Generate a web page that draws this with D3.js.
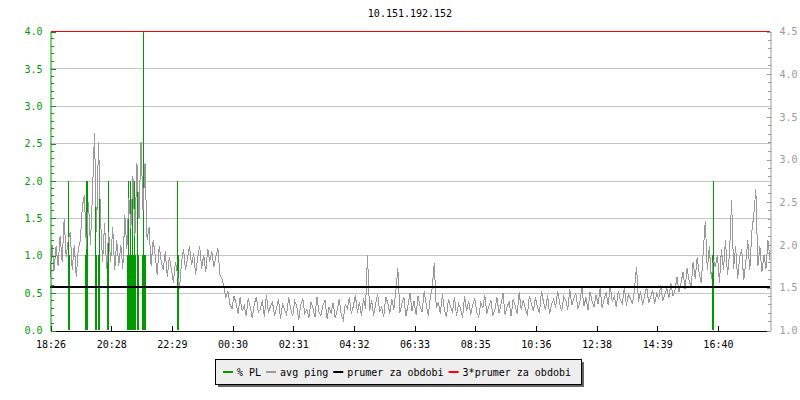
<!DOCTYPE html>
<html>
<head>
<meta charset="utf-8">
<script src="https://cdn.jsdelivr.net/npm/d3@7"></script>
<style>
  body { margin: 0; background: #fff; }
  text { font-family: "DejaVu Sans Mono", monospace; font-size: 10px; }
</style>
</head>
<body>
<div id="chart"></div>
<script>
const title = "10.151.192.152";

// x axis: sample index, one tick label every 120 samples
const sampleCount = 1424;
const tickEvery = 120;
const timeLabels = ["18:26", "20:28", "22:29", "00:30", "02:31", "04:32",
                    "06:33", "08:35", "10:36", "12:38", "14:39", "16:40"];

// avg ping (right axis, ms), one value every 4 samples
const pingStep = 4;
const ping = [
  1.62, 2.00, 1.70, 1.98, 1.75, 2.10, 1.80, 2.30, 1.85, 2.05,
  2.15, 1.70, 2.00, 1.62, 1.95, 2.05, 2.45, 2.58, 1.95, 2.50,
  2.00, 2.60, 3.30, 2.15, 3.20, 2.30, 1.80, 2.25, 1.72, 2.15,
  1.80, 2.20, 1.70, 2.05, 1.75, 2.00, 1.72, 2.35, 1.95, 2.55,
  2.20, 2.80, 2.10, 2.95, 2.30, 3.20, 2.40, 2.95, 2.05, 2.20,
  1.75, 2.05, 1.88, 1.65, 1.98, 1.80, 1.70, 1.92, 1.62, 1.85,
  1.72, 1.55, 1.80, 1.66, 1.48, 1.78, 1.95, 1.70, 1.85, 1.98,
  1.76, 1.90, 1.65, 1.84, 1.98, 1.72, 1.88, 1.68, 1.95, 1.80,
  1.92, 1.74, 1.86, 1.96, 1.65, 1.60, 1.50, 1.38, 1.45, 1.30,
  1.25, 1.40, 1.31, 1.19, 1.38, 1.22, 1.29, 1.16, 1.37, 1.27,
  1.14, 1.30, 1.39, 1.21, 1.24, 1.35, 1.15, 1.41, 1.20, 1.28,
  1.33, 1.17, 1.26, 1.36, 1.13, 1.31, 1.23, 1.18, 1.38, 1.25,
  1.16, 1.34, 1.28, 1.12, 1.30, 1.37, 1.19, 1.24, 1.14, 1.33,
  1.26, 1.15, 1.39, 1.21, 1.17, 1.29, 1.35, 1.13, 1.27, 1.20,
  1.32, 1.14, 1.23, 1.36, 1.18, 1.12, 1.30, 1.25, 1.38, 1.19,
  1.28, 1.41, 1.20, 1.33, 1.16, 1.37, 1.25, 1.88, 1.22, 1.35,
  1.17, 1.30, 1.42, 1.21, 1.27, 1.15, 1.39, 1.32, 1.19, 1.36,
  1.24, 1.46, 1.72, 1.20, 1.31, 1.38, 1.16, 1.29, 1.43, 1.22,
  1.34, 1.18, 1.40, 1.27, 1.21, 1.45, 1.30, 1.17, 1.37, 1.50,
  1.78, 1.26, 1.33, 1.19, 1.42, 1.24, 1.15, 1.36, 1.28, 1.20,
  1.39, 1.16, 1.31, 1.25, 1.14, 1.40, 1.22, 1.34, 1.18, 1.29,
  1.37, 1.21, 1.15, 1.32, 1.26, 1.41, 1.19, 1.28, 1.35, 1.17,
  1.24, 1.38, 1.20, 1.30, 1.43, 1.18, 1.27, 1.33, 1.16, 1.36,
  1.29, 1.19, 1.44, 1.23, 1.35, 1.26, 1.17, 1.40, 1.31, 1.22,
  1.38, 1.27, 1.20, 1.45, 1.33, 1.24, 1.41, 1.19, 1.30, 1.36,
  1.26, 1.46, 1.31, 1.22, 1.39, 1.35, 1.24, 1.48, 1.29, 1.37,
  1.43, 1.25, 1.33, 1.50, 1.28, 1.38, 1.23, 1.45, 1.34, 1.27,
  1.41, 1.30, 1.49, 1.26, 1.36, 1.44, 1.29, 1.52, 1.33, 1.39,
  1.27, 1.46, 1.35, 1.31, 1.50, 1.28, 1.42, 1.37, 1.30, 1.48,
  1.74, 1.33, 1.45, 1.29, 1.40, 1.51, 1.32, 1.38, 1.47, 1.31,
  1.43, 1.36, 1.53, 1.34, 1.41, 1.49, 1.37, 1.55, 1.40, 1.46,
  1.62, 1.44, 1.55, 1.68, 1.48, 1.72, 1.58, 1.50, 1.80, 1.60,
  1.85, 1.66, 1.55, 1.92, 2.28, 1.70, 1.98, 1.60, 1.82, 1.74,
  1.88, 1.55, 1.95, 1.70, 2.05, 1.64, 1.90, 2.52, 1.72, 1.98,
  1.60, 1.85, 1.95, 1.58, 1.78, 2.05, 1.70, 2.15, 2.35, 2.65,
  1.75, 1.98, 1.68, 1.88, 1.72, 2.05, 1.82
];

// % packet loss (left axis): sample index, value
const plIndex = [36, 38, 69, 71, 73, 89, 91, 95, 97, 113, 115,
                 152, 154, 156, 158, 160, 162, 164, 166, 168, 172, 174,
                 182, 184, 186, 188, 251, 253, 1309, 1311];
const plValue = [2, 1, 1, 2, 2, 2, 1, 1, 2, 1, 2,
                 1, 2, 1, 2, 1, 2, 1, 2, 1, 2, 1,
                 1, 4, 1, 1, 2, 1, 1, 2];

const prumer = 1.5;          // average ping for the period
const prumer3 = 3 * prumer;  // 3 * average

const legendItems = ["% PL", "avg ping", "prumer za obdobi", "3*prumer za obdobi"];

const plColor = "#009900";
const pingColor = "#999999";
const gridColor = "#c4c4c4";

const width = 800, height = 400;
const margin = {top: 31, right: 30, bottom: 70, left: 50};

const svg = d3.select("#chart").append("svg")
  .attr("width", width)
  .attr("height", height);

const x = d3.scaleLinear()
  .domain([0, sampleCount])
  .range([margin.left, width - margin.right]);

const yPL = d3.scaleLinear()
  .domain([0, 4])
  .range([height - margin.bottom, margin.top]);

const yPing = d3.scaleLinear()
  .domain([1, 4.5])
  .range([height - margin.bottom, margin.top]);

const x0 = margin.left, x1 = width - margin.right;
const yBottom = height - margin.bottom;

// horizontal grid at left axis major ticks
svg.append("g")
  .selectAll("line")
  .data(d3.range(0.5, 4, 0.5))
  .enter().append("line")
    .attr("x1", x0).attr("x2", x1)
    .attr("y1", d => Math.round(yPL(d)) + 0.5)
    .attr("y2", d => Math.round(yPL(d)) + 0.5)
    .attr("stroke", gridColor)
    .attr("shape-rendering", "crispEdges");

// packet loss bars
svg.append("g")
  .selectAll("rect")
  .data(plIndex.map((d, i) => ({i: d, v: plValue[i]})))
  .enter().append("rect")
    .attr("x", d => Math.round(x(d.i)))
    .attr("width", 1)
    .attr("y", d => Math.round(yPL(d.v)))
    .attr("height", d => yBottom - Math.round(yPL(d.v)))
    .attr("fill", plColor)
    .attr("shape-rendering", "crispEdges");

// avg ping trace
const line = d3.line()
  .x((d, i) => x(i * pingStep))
  .y(d => yPing(d));

svg.append("path")
  .datum(ping)
  .attr("fill", "none")
  .attr("stroke", pingColor)
  .attr("stroke-width", 1)
  .attr("shape-rendering", "crispEdges")
  .attr("d", line);

// average line
svg.append("line")
  .attr("x1", x0).attr("x2", x1)
  .attr("y1", Math.round(yPing(prumer)))
  .attr("y2", Math.round(yPing(prumer)))
  .attr("stroke", "#000")
  .attr("stroke-width", 2)
  .attr("shape-rendering", "crispEdges");

// bottom axis
const xAxis = d3.axisBottom(x)
  .tickValues(d3.range(0, sampleCount, tickEvery))
  .tickFormat((d, i) => timeLabels[i])
  .tickSizeInner(-5)
  .tickSizeOuter(0)
  .tickPadding(10);

const gx = svg.append("g")
  .attr("transform", `translate(0.5, ${yBottom + 0.5})`)
  .call(xAxis);
gx.select(".domain").attr("stroke", "#000").attr("shape-rendering", "crispEdges");
gx.selectAll(".tick line").attr("stroke", "#000").attr("shape-rendering", "crispEdges");
gx.selectAll(".tick text")
  .attr("fill", "#000")
  .style("font-family", '"DejaVu Sans Mono", monospace')
  .style("font-size", "10px");

// left axis, % PL
const yLeftAxis = d3.axisLeft(yPL)
  .tickValues(d3.range(0, 4.01, 0.5))
  .tickFormat(d3.format(".1f"))
  .tickSizeInner(-5)
  .tickSizeOuter(0)
  .tickPadding(8);

const gl = svg.append("g")
  .attr("transform", `translate(${x0 + 0.5}, 0.5)`)
  .call(yLeftAxis);

gl.append("g")
  .selectAll("line")
  .data(d3.range(0, 41).filter(d => d % 5 !== 0).map(d => d / 10))
  .enter().append("line")
    .attr("x1", 0).attr("x2", 3)
    .attr("y1", d => Math.round(yPL(d)))
    .attr("y2", d => Math.round(yPL(d)))
    .attr("stroke", plColor);

gl.select(".domain").attr("stroke", plColor);
gl.selectAll("line").attr("shape-rendering", "crispEdges");
gl.selectAll(".tick line").attr("stroke", plColor);
gl.selectAll(".tick text")
  .attr("fill", plColor)
  .style("font-family", '"DejaVu Sans Mono", monospace')
  .style("font-size", "10px");

// right axis, avg ping
const yRightAxis = d3.axisRight(yPing)
  .tickValues(d3.range(1, 4.51, 0.5))
  .tickFormat(d3.format(".1f"))
  .tickSizeInner(-4)
  .tickSizeOuter(0)
  .tickPadding(9);

const gr = svg.append("g")
  .attr("transform", `translate(${x1 + 0.5}, 0.5)`)
  .call(yRightAxis);

gr.append("g")
  .selectAll("line")
  .data(d3.range(10, 46).filter(d => d % 5 !== 0).map(d => d / 10))
  .enter().append("line")
    .attr("x1", 0).attr("x2", -3)
    .attr("y1", d => Math.round(yPing(d)))
    .attr("y2", d => Math.round(yPing(d)))
    .attr("stroke", pingColor);

gr.select(".domain").attr("stroke", pingColor);
gr.selectAll("line").attr("shape-rendering", "crispEdges");
gr.selectAll(".tick line").attr("stroke", pingColor);
gr.selectAll(".tick text")
  .attr("fill", pingColor)
  .style("font-family", '"DejaVu Sans Mono", monospace')
  .style("font-size", "10px");

// 3 * average, drawn last so nothing covers it
svg.append("rect")
  .attr("x", x0 + 1)
  .attr("y", Math.round(yPing(prumer3)))
  .attr("width", x1 - x0 - 1)
  .attr("height", 1)
  .attr("fill", "#ff0000")
  .attr("shape-rendering", "crispEdges");

// title
svg.append("text")
  .attr("x", (x0 + x1) / 2)
  .attr("y", 17)
  .attr("text-anchor", "middle")
  .attr("fill", "#000")
  .text(title);

// legend
const legendColors = [plColor, pingColor, "#000", "#ff0000"];
const lg = svg.append("g");

lg.append("rect")
  .attr("x", 218).attr("y", 362)
  .attr("width", 366).attr("height", 25)
  .attr("fill", "#666");

lg.append("rect")
  .attr("x", 215.5).attr("y", 359.5)
  .attr("width", 366).attr("height", 25)
  .attr("fill", "#eeeeee")
  .attr("stroke", "#000");

let lx = 223;
legendItems.forEach((name, i) => {
  lg.append("rect")
    .attr("x", lx).attr("y", 371)
    .attr("width", 10).attr("height", 2)
    .attr("fill", legendColors[i]);
  const t = lg.append("text")
    .attr("x", lx + 14)
    .attr("y", 375.5)
    .attr("fill", "#000")
    .text(name);
  lx = lx + 14 + t.node().getComputedTextLength() + 5;
});
</script>
</body>
</html>
